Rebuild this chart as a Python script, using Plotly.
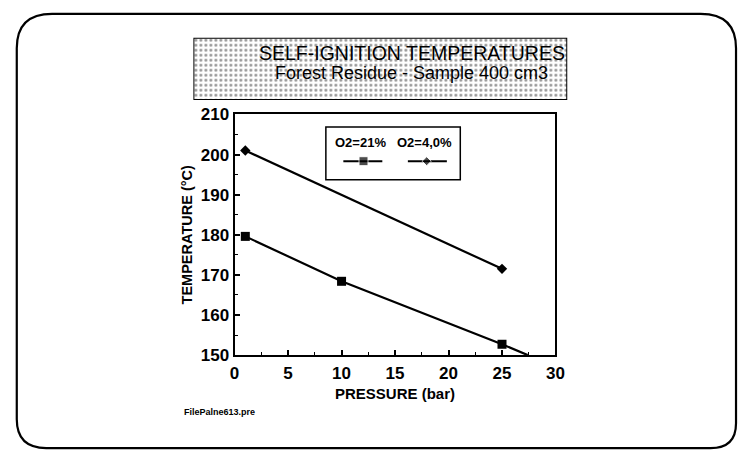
import plotly.graph_objects as go

# Measured self-ignition temperatures vs. pressure
pressure_21 = [1, 10, 25]
temp_21 = [179.6, 168.4, 152.7]
pressure_4 = [1, 25]
temp_4 = [201.0, 171.5]

# Fitted trend for the O2=21% series (continues past the last point)
trend_p_21 = [1, 10, 25, 27.4]
trend_t_21 = [179.6, 168.4, 152.7, 150.0]

x_ticks = [0, 5, 10, 15, 20, 25, 30]
y_ticks = [150, 160, 170, 180, 190, 200, 210]

W, H = 746, 460


def px(x):
    return x / W


def py(y):
    return 1 - y / H


FONT = "Liberation Sans, Arial, sans-serif"

fig = go.Figure()

# Main series
fig.add_trace(go.Scatter(
    x=trend_p_21, y=trend_t_21, mode="lines",
    line=dict(color="black", width=2.2), hoverinfo="skip", showlegend=False))
fig.add_trace(go.Scatter(
    x=pressure_21, y=temp_21, mode="markers", name="O2=21%",
    marker=dict(symbol="square", size=9, color="black"),
    cliponaxis=False, showlegend=False))
fig.add_trace(go.Scatter(
    x=pressure_4, y=temp_4, mode="lines+markers", name="O2=4,0%",
    line=dict(color="black", width=2.2),
    marker=dict(symbol="diamond", size=8, color="black"),
    cliponaxis=False, showlegend=False))

# Stippled title panel
fig.add_trace(go.Bar(
    x=[0.5], y=[1], width=[1], xaxis="x2", yaxis="y2",
    marker=dict(color="white", line=dict(color="black", width=2),
                pattern=dict(shape=".", fgcolor="#222222", bgcolor="white",
                             size=5, solidity=0.25)),
    hoverinfo="skip", showlegend=False))

# Legend samples
fig.add_trace(go.Scatter(
    x=[0.13, 0.28, 0.42], y=[0.35, 0.35, 0.35], mode="lines+markers",
    xaxis="x3", yaxis="y3",
    line=dict(color="black", width=2), hoverinfo="skip",
    marker=dict(symbol="square", size=[0, 9, 0], color="black"),
    showlegend=False))
fig.add_trace(go.Scatter(
    x=[0.61, 0.75, 0.90], y=[0.35, 0.35, 0.35], mode="lines+markers",
    xaxis="x3", yaxis="y3",
    line=dict(color="black", width=2), hoverinfo="skip",
    marker=dict(symbol="diamond", size=[0, 7, 0], color="black"),
    showlegend=False))

axis_common = dict(
    showgrid=False, zeroline=False, showline=True, linecolor="black",
    linewidth=2, mirror=True, ticks="inside", ticklen=5, tickwidth=1.5,
    tickcolor="black",
    tickfont=dict(family=FONT, size=17, color="black", weight="bold"),
    minor=dict(ticks="inside", ticklen=3, tickwidth=1, tickcolor="black"),
)

# Rounded outer frame (corner radii: top-left, top-right, bottom-right, bottom-left)
x0, y0, x1, y1 = px(12), py(5), px(745), py(458)
r_tl, r_tr, r_br, r_bl = 36, 36, 26, 30
frame = (
    f"M {x0 + r_tl / W},{y0} L {x1 - r_tr / W},{y0} "
    f"Q {x1},{y0} {x1},{y0 - r_tr / H} "
    f"L {x1},{y1 + r_br / H} Q {x1},{y1} {x1 - r_br / W},{y1} "
    f"L {x0 + r_bl / W},{y1} Q {x0},{y1} {x0},{y1 + r_bl / H} "
    f"L {x0},{y0 - r_tl / H} Q {x0},{y0} {x0 + r_tl / W},{y0} Z"
)


def label(text, x, y, size, bold=False, xanchor="center", family=FONT):
    font = dict(family=family, size=size, color="black")
    if bold:
        font["weight"] = "bold"
    return dict(text=text, x=px(x), y=py(y), xref="paper", yref="paper",
                showarrow=False, xanchor=xanchor, yanchor="middle", font=font)


fig.update_layout(
    width=W, height=H, autosize=False,
    margin=dict(l=0, r=0, t=0, b=0),
    paper_bgcolor="white", plot_bgcolor="white",
    font=dict(family=FONT, color="black"),
    xaxis=dict(axis_common, domain=[px(234), px(561)], range=[0, 30],
               tickvals=x_ticks, minor_dtick=2.5, ticklabelstandoff=2,
               title=dict(text="PRESSURE (bar)", standoff=6,
                          font=dict(family=FONT, size=15, weight="bold"))),
    yaxis=dict(axis_common, domain=[py(361), py(110)], range=[150, 210],
               tickvals=y_ticks, minor_dtick=5,
               title=dict(text="TEMPERATURE (°C)", standoff=5,
                          font=dict(family=FONT, size=14.5, weight="bold"))),
    xaxis2=dict(domain=[px(192), px(573)], range=[0, 1], visible=False,
                fixedrange=True),
    yaxis2=dict(domain=[py(95), py(30)], range=[0, 1], visible=False,
                fixedrange=True),
    xaxis3=dict(domain=[px(327), px(464)], range=[0, 1], visible=False,
                anchor="y3"),
    yaxis3=dict(domain=[py(178), py(123)], range=[0, 1], visible=False,
                anchor="x3"),
    shapes=[
        dict(type="path", path=frame, xref="paper", yref="paper",
             line=dict(color="black", width=2.2)),
        dict(type="rect", xref="paper", yref="paper",
             x0=px(327), x1=px(464), y0=py(178), y1=py(123),
             line=dict(color="black", width=1.5), fillcolor="rgba(0,0,0,0)"),
    ],
    annotations=[
        label("SELF-IGNITION TEMPERATURES", 415, 46, 19.5),
        label("Forest Residue - Sample 400 cm3", 414, 67, 18),
        label("O2=21%", 362, 139, 13, bold=True),
        label("O2=4,0%", 428, 139, 13, bold=True),
        label("FilePalne613.pre", 180, 420, 9, bold=True, xanchor="left",
              family="Liberation Sans Narrow, " + FONT),
    ],
)

fig.write_html("out.html")
